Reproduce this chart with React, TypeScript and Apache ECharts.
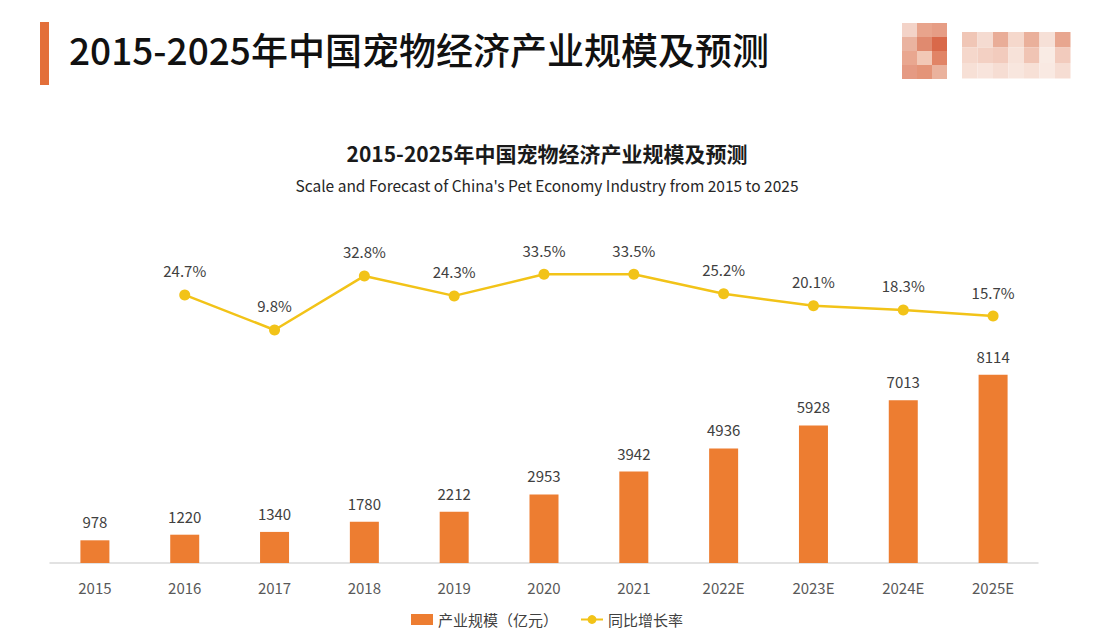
import React, { useEffect, useRef } from "react";
import * as echarts from "echarts";

const categories = ["2015", "2016", "2017", "2018", "2019", "2020", "2021", "2022E", "2023E", "2024E", "2025E"];
const scaleValues = [978, 1220, 1340, 1780, 2212, 2953, 3942, 4936, 5928, 7013, 8114];
const growthValues: (number | string)[] = ["-", 24.7, 9.8, 32.8, 24.3, 33.5, 33.5, 25.2, 20.1, 18.3, 15.7];
const seriesNames = ["产业规模（亿元）", "同比增长率"];
const mainTitle = "2015-2025年中国宠物经济产业规模及预测";
const subTitleEn = "Scale and Forecast of China's Pet Economy Industry from 2015 to 2025";

const mosaicLeft = [
  ["#f3d3c8", "#eab3a0", "#e9a790", "#e59a83"],
  ["#e8a48c", "#e08a6f", "#f2c8b6", "#e49478"],
  ["#e69d85", "#d9694a", "#e18466", "#eab29d"],
];
const mosaicRight = [
  ["#f0c6b6", "#f5dbd1", "#e9ad98", "#f5d8cc", "#eab09b", "#f6e0d7", "#e8a68f"],
  ["#f5d7cb", "#f3d0c3", "#f2cbbd", "#f7e2d9", "#f0c4b4", "#f9ebe4", "#f2cbbd"],
  ["#f7e0d6", "#f8e4dc", "#f6ddd3", "#f8e6de", "#f7e0d6", "#f9e9e2", "#f6ddd3"],
];

export default function App() {
  const ref = useRef<HTMLDivElement>(null);
  useEffect(() => {
    document.body.style.margin = "0";
    const chart = echarts.init(ref.current!, null, { renderer: "svg" });
    const font = "'Noto Sans CJK SC', 'Noto Sans', sans-serif";

    const graphics: any[] = [
      { type: "rect", left: 40, top: 22, shape: { width: 9, height: 63 }, style: { fill: "#E36F3A" } },
    ];
    mosaicLeft.forEach((col, ci) =>
      col.forEach((c, ri) =>
        graphics.push({ type: "rect", x: 902 + ci * 15, y: 23 + ri * 14, shape: { width: 15, height: 14 }, style: { fill: c } })
      )
    );
    mosaicRight.forEach((row, ri) =>
      row.forEach((c, ci) =>
        graphics.push({ type: "rect", x: 962 + ci * 15.5, y: 32 + ri * 15.5, shape: { width: 15.5, height: 15.5 }, style: { fill: c } })
      )
    );

    chart.setOption({
      animation: false,
      backgroundColor: "#ffffff",
      textStyle: { fontFamily: font },
      title: [
        {
          text: mainTitle,
          left: 64,
          top: 25,
          textStyle: { fontSize: 37, fontWeight: 500, color: "#111111", fontFamily: font },
        },
        {
          text: mainTitle,
          left: "center",
          top: 137,
          textStyle: { fontSize: 21, fontWeight: "bold", color: "#1a1a1a", fontFamily: font },
        },
        {
          text: subTitleEn,
          left: "center",
          top: 172,
          textStyle: { fontSize: 15.5, fontWeight: "normal", color: "#262626", fontFamily: font },
        },
      ],
      graphic: graphics,
      legend: {
        bottom: 0,
        left: "center",
        itemGap: 22,
        itemWidth: 22,
        itemHeight: 11,
        textStyle: { fontSize: 15, color: "#404040", fontFamily: font },
        data: [
          { name: seriesNames[0], icon: "rect" },
          { name: seriesNames[1] },
        ],
      },
      grid: [
        { left: 50, right: 56, top: 331, bottom: 69 },
        { left: 50, right: 56, top: 259, bottom: 279 },
      ],
      xAxis: [
        {
          type: "category",
          data: categories,
          gridIndex: 0,
          axisLine: { lineStyle: { color: "#d9d9d9", width: 1.5 } },
          axisTick: { show: false },
          axisLabel: { fontSize: 15, color: "#595959", margin: 17, fontFamily: font },
        },
        {
          type: "category",
          data: categories,
          gridIndex: 1,
          show: false,
        },
      ],
      yAxis: [
        { type: "value", gridIndex: 0, min: 0, max: 10000, show: false },
        { type: "value", gridIndex: 1, min: 0, max: 40, show: false },
      ],
      series: [
        {
          name: seriesNames[0],
          type: "bar",
          xAxisIndex: 0,
          yAxisIndex: 0,
          data: scaleValues,
          barWidth: 29,
          itemStyle: { color: "#ED7D31" },
          label: { show: true, position: "top", distance: 11, fontSize: 15, color: "#404040", fontFamily: font },
        },
        {
          name: seriesNames[1],
          type: "line",
          xAxisIndex: 1,
          yAxisIndex: 1,
          data: growthValues,
          symbol: "circle",
          symbolSize: 11,
          lineStyle: { color: "#F2C318", width: 2.5 },
          itemStyle: { color: "#F2C318" },
          label: {
            show: true,
            position: "top",
            distance: 11,
            fontSize: 15,
            color: "#404040",
            fontFamily: font,
            formatter: (p: any) => p.value + "%",
          },
        },
      ],
    });
    return () => chart.dispose();
  }, []);
  return <div ref={ref} style={{ width: 1094, height: 632 }} />;
}
